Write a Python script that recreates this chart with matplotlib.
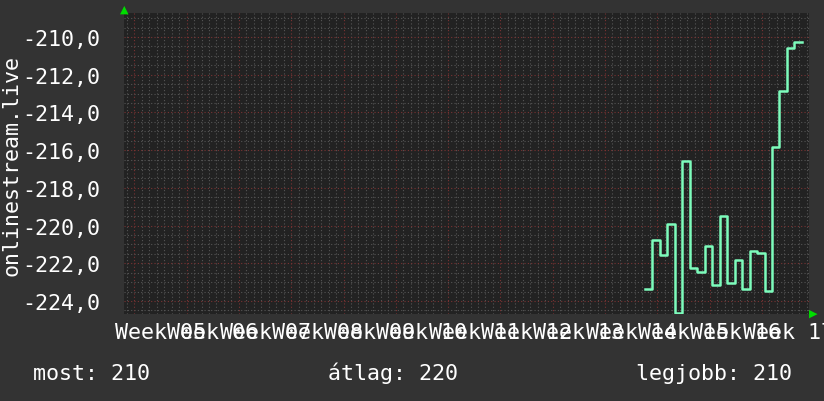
import matplotlib.pyplot as plt
from matplotlib.ticker import MultipleLocator, FuncFormatter

# daily samples, x in days counted from the start of week 05
day0 = 68.35
values = [
    -223.37, -220.75, -221.57, -219.92, -224.62, -216.60, -222.24,
    -222.45, -221.07, -223.16, -219.50, -223.05, -221.81, -223.37,
    -221.33, -221.46, -223.47, -215.82, -212.85, -210.57, -210.25,
]
week_labels = ["Week %02d" % w for w in range(5, 18)]
legend_items = [("most: 210", 33), ("átlag: 220", 328), ("legjobb: 210", 636)]

bg = "#333333"
plot_bg = "#222222"
fg = "#ffffff"
line_col = "#7dfcbc"
font = "DejaVu Sans Mono"
fs = 15.6

W, H = 824, 402
fig = plt.figure(figsize=(W / 100, H / 100), dpi=100, facecolor=bg)
ax = fig.add_axes([124 / W, 1 - 315 / H, (809 - 124) / W, (315 - 14) / H])
ax.set_facecolor(plot_bg)

xs = [day0 + i for i in range(len(values) + 1)]
ys = values + [values[-1]]
ax.plot(xs, ys, drawstyle="steps-post", color=line_col, lw=1.8, zorder=3)

ax.set_xlim(-1.38, 90.3)
ax.set_ylim(-224.69, -208.73)

ax.xaxis.set_major_locator(MultipleLocator(7))
ax.xaxis.set_minor_locator(MultipleLocator(1))
ax.yaxis.set_major_locator(MultipleLocator(2))
ax.yaxis.set_minor_locator(MultipleLocator(0.5))
ax.yaxis.set_major_formatter(FuncFormatter(lambda v, p: ("%.1f" % v).replace(".", ",")))
ax.set_xticklabels([])

ax.grid(True, which="minor", color="#555555", lw=0.8, ls=(0, (1, 2)), zorder=1)
ax.grid(True, which="major", color="#7a3333", lw=0.8, ls=(0, (1, 2)), zorder=2)
ax.tick_params(which="both", length=0, colors=fg)
ax.tick_params(axis="y", pad=17, labelsize=fs)
for lab in ax.get_yticklabels():
    lab.set_fontfamily(font)
for s in ax.spines.values():
    s.set_visible(False)

# week labels, centred mid-week like rrdtool
for i, lab in enumerate(week_labels):
    ax.text(i * 7 + 3.5, -0.025, lab, transform=ax.get_xaxis_transform(),
            ha="center", va="top", color=fg, fontsize=fs, family=font, clip_on=False)

# arrows
fig.text(124 / W, 1 - 10 / H, "▲", color="#00dd00", fontsize=8, ha="center", va="center")
fig.text(813 / W, 1 - 314 / H, "▶", color="#00dd00", fontsize=8, ha="center", va="center")

fig.text(12 / W, 1 - 165 / H, "onlinestream.live", rotation=90, ha="center", va="center",
         color=fg, fontsize=fs, family=font)

for txt, x in legend_items:
    fig.text(x / W, 1 - 380 / H, txt, ha="left", va="baseline", color=fg,
             fontsize=fs, family=font)

fig.savefig("out.png", dpi=100, facecolor=bg)
